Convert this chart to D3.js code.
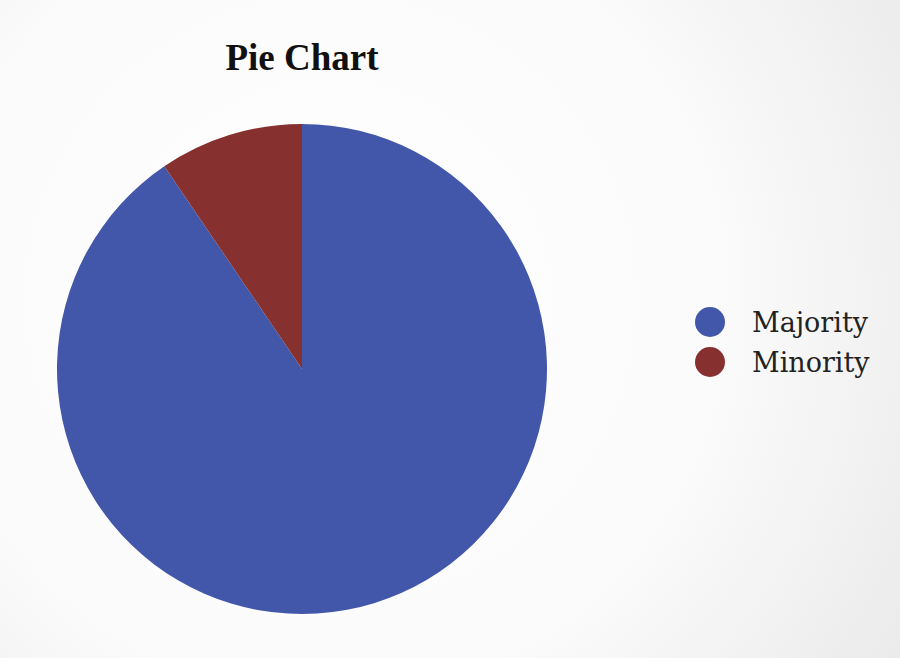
<!DOCTYPE html>
<html>
<head>
<meta charset="utf-8">
<script src="https://cdn.jsdelivr.net/npm/d3@7"></script>
<style>
  html, body { margin: 0; padding: 0; }
  body { width: 900px; height: 658px; overflow: hidden; }
</style>
</head>
<body>
<svg id="chart" width="900" height="658"></svg>
<script>
// data
var labels = ["Majority", "Minority"];
var values = [90.5, 9.5];
var colors = ["#4257aa", "#86302f"];

var svg = d3.select("#chart"),
    width = 900,
    height = 658;

// slide-like background, white in the middle, faint grey toward the edges
var defs = svg.append("defs");
var grad = defs.append("radialGradient")
    .attr("id", "bg")
    .attr("gradientUnits", "userSpaceOnUse")
    .attr("cx", 330).attr("cy", 300).attr("r", 700);
grad.append("stop").attr("offset", "0%").attr("stop-color", "#ffffff");
grad.append("stop").attr("offset", "55%").attr("stop-color", "#fbfbfb");
grad.append("stop").attr("offset", "100%").attr("stop-color", "#e9e9e9");

svg.append("rect")
    .attr("width", width)
    .attr("height", height)
    .attr("fill", "url(#bg)");

var cx = 302, cy = 369, radius = 245;

svg.append("text")
    .attr("x", cx)
    .attr("y", 70)
    .attr("text-anchor", "middle")
    .style("font-family", "'Liberation Serif', serif")
    .style("font-weight", "bold")
    .style("font-size", "37px")
    .attr("fill", "#111")
    .text("Pie Chart");

var color = d3.scaleOrdinal().domain(labels).range(colors);

// first slice clockwise from 12 o'clock, minority ends back at the top
var pie = d3.pie().sort(null).value(function (d, i) { return values[i]; });
var arc = d3.arc().innerRadius(0).outerRadius(radius);

var g = svg.append("g")
    .attr("transform", "translate(" + cx + "," + cy + ")");

g.selectAll("path")
    .data(pie(labels))
    .enter().append("path")
    .attr("d", arc)
    .attr("fill", function (d) { return color(d.data); });

// legend
var legend = svg.append("g")
    .attr("transform", "translate(710,322)");

var item = legend.selectAll(".item")
    .data(labels)
    .enter().append("g")
    .attr("class", "item")
    .attr("transform", function (d, i) { return "translate(0," + i * 40 + ")"; });

item.append("circle")
    .attr("r", 15)
    .attr("fill", function (d) { return color(d); });

item.append("text")
    .attr("x", 42)
    .attr("y", 10)
    .style("font-family", "'DejaVu Serif', serif")
    .style("font-size", "27px")
    .attr("fill", "#222")
    .text(function (d) { return d; });
</script>
</body>
</html>
